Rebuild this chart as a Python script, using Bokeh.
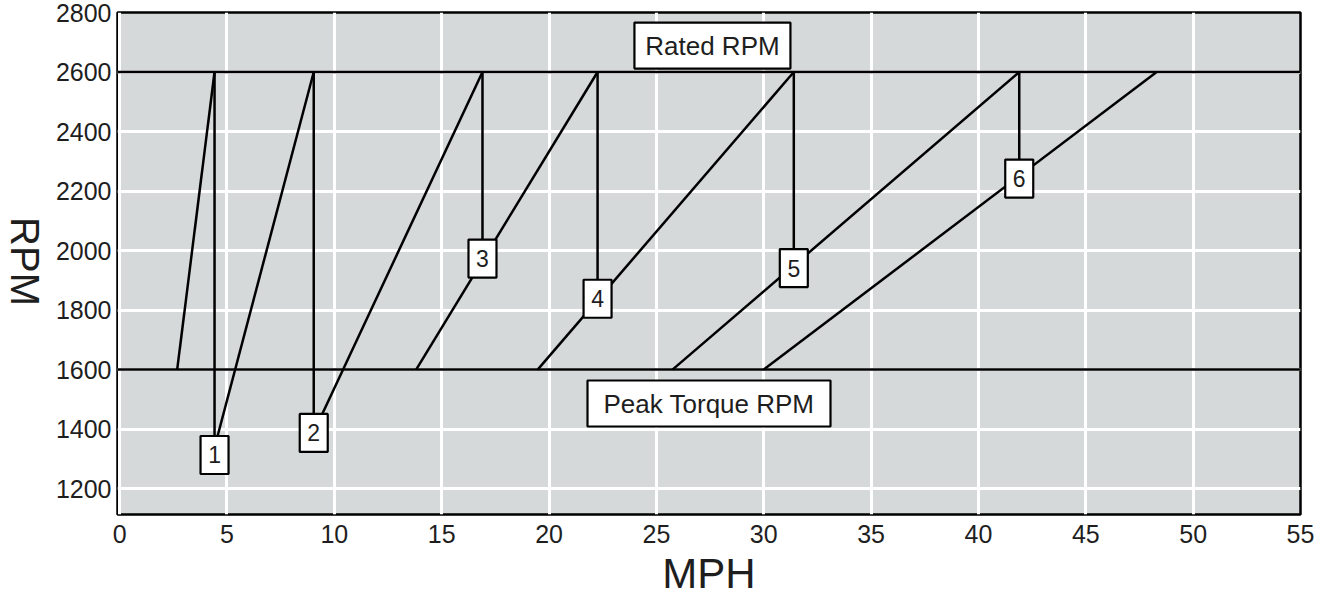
import math
from bokeh.plotting import figure
from bokeh.layouts import row
from bokeh.models import Range1d, Span, FixedTicker, ColumnDataSource
from bokeh.core.properties import value
from bokeh.embed import file_html
from bokeh.resources import INLINE

# ---- data ----
x_ticks = [0, 5, 10, 15, 20, 25, 30, 35, 40, 45, 50, 55]
y_ticks = [1200, 1400, 1600, 1800, 2000, 2200, 2400, 2600, 2800]
rated_rpm = 2600
peak_torque_rpm = 1600
gear_lo_mph = [2.68, 4.50, 9.30, 13.81, 19.47, 25.75, 30.00]
gear_lo_rpm = [1600, 1360, 1430, 1600, 1600, 1600, 1600]
gear_hi_mph = [4.42, 9.04, 16.90, 22.26, 31.40, 41.90, 48.30]
gear_hi_rpm = [2600, 2600, 2600, 2600, 2600, 2600, 2600]
shift_mph = [4.42, 9.04, 16.90, 22.26, 31.40, 41.90]
shift_box_rpm = [1313, 1387, 1973, 1838, 1941, 2242]
shift_labels = ["1", "2", "3", "4", "5", "6"]

FONT = "Liberation Sans"
BG = "#d6d9d9"
TXT = "#1e1e1e"
LEFT_W = 48

yr = Range1d(1113, 2800)

p = figure(width=1322 - LEFT_W, height=599, output_backend="svg", toolbar_location=None,
           x_range=Range1d(-0.1, 55), y_range=yr,
           min_border_left=117 - LEFT_W, min_border_right=22, min_border_top=12,
           min_border_bottom=84)
p.background_fill_color = BG
p.border_fill_color = "white"
p.outline_line_color = "black"
p.outline_line_width = 2.5

for ax in (p.xaxis, p.yaxis):
    ax.axis_line_color = None
    ax.major_tick_line_color = None
    ax.minor_tick_line_color = None
    ax.major_tick_out = 0
    ax.major_tick_in = 0
    ax.major_label_text_font = FONT
    ax.major_label_text_font_size = "25px"
    ax.major_label_text_color = TXT
    ax.axis_label_text_font = FONT
    ax.axis_label_text_font_style = "normal"
    ax.axis_label_text_color = TXT
p.xaxis.ticker = FixedTicker(ticks=x_ticks)
p.yaxis.ticker = FixedTicker(ticks=y_ticks)
p.xaxis.major_label_standoff = 10
p.yaxis.major_label_standoff = 6

p.xaxis.axis_label = "MPH"
p.xaxis.axis_label_text_font_size = "42px"
p.xaxis.axis_label_standoff = 4

p.xgrid.ticker = FixedTicker(ticks=x_ticks)
p.ygrid.ticker = FixedTicker(ticks=y_ticks)
for g in (p.xgrid, p.ygrid):
    g.grid_line_color = "white"
    g.grid_line_width = 3
    g.grid_line_alpha = 1.0

# reference lines
p.add_layout(Span(location=rated_rpm, dimension="width", line_color="black", line_width=2.5))
p.add_layout(Span(location=peak_torque_rpm, dimension="width", line_color="black", line_width=2.5))

# gear lines
gears = ColumnDataSource(dict(x0=gear_lo_mph, y0=gear_lo_rpm, x1=gear_hi_mph, y1=gear_hi_rpm))
p.segment(x0="x0", y0="y0", x1="x1", y1="y1", source=gears, line_color="black", line_width=2.5)

# shift drops
shifts = ColumnDataSource(dict(x=shift_mph, top=[rated_rpm] * len(shift_mph), y=shift_box_rpm,
                               label=shift_labels))
p.segment(x0="x", y0="top", x1="x", y1="y", source=shifts, line_color="black", line_width=2.5)
p.rect(x="x", y="y", width=28, height=38, width_units="screen", height_units="screen",
       source=shifts, fill_color="white", line_color="black", line_width=2.2)
p.text(x="x", y="y", text="label", source=shifts, text_align="center", text_baseline="middle",
       text_font=value(FONT), text_font_size="23px", text_color=TXT)

# Rated / Peak torque labels
lab = ColumnDataSource(dict(x=[27.61, 27.45], y=[2689, 1486], w=[156, 243],
                            t=["Rated RPM", "Peak Torque RPM"]))
p.rect(x="x", y="y", width="w", height=46, width_units="screen", height_units="screen",
       source=lab, fill_color="white", line_color="black", line_width=2.2)
p.text(x="x", y="y", text="t", source=lab, text_align="center", text_baseline="middle",
       text_font=value(FONT), text_font_size="26px", text_color=TXT)

# y-axis title (reads top-to-bottom) in a narrow strip to the left
t = figure(width=LEFT_W, height=599, output_backend="svg", toolbar_location=None,
           x_range=Range1d(0, LEFT_W), y_range=yr,
           x_axis_location=None, y_axis_location=None,
           min_border_left=0, min_border_right=0, min_border_top=12, min_border_bottom=84)
t.outline_line_color = None
t.background_fill_color = "white"
t.border_fill_color = "white"
t.xgrid.visible = False
t.ygrid.visible = False
t.text(x=[24], y=[1963], text=["RPM"], angle=-math.pi / 2, text_align="center",
       text_baseline="middle", text_font=value(FONT), text_font_size="40px", text_color=TXT)

layout = row(t, p, spacing=0)
open("out.html", "w").write(file_html(layout, INLINE))
